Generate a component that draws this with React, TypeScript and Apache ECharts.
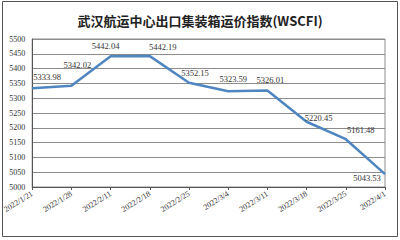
import React, { useEffect, useRef } from "react";
import * as echarts from "echarts";

const title = "武汉航运中心出口集装箱运价指数(WSCFI)";
const categories = [
  "2022/1/21", "2022/1/28", "2022/2/11", "2022/2/18", "2022/2/25",
  "2022/3/4", "2022/3/11", "2022/3/18", "2022/3/25", "2022/4/1",
];
const values = [5333.98, 5342.02, 5442.04, 5442.19, 5352.15, 5323.59, 5326.01, 5220.45, 5161.48, 5043.53];
const yMin = 5000;
const yMax = 5500;
const yStep = 50;

export default function App() {
  const ref = useRef<HTMLDivElement>(null);
  useEffect(() => {
    document.body.style.margin = "0";
    const chart = echarts.init(ref.current!, null, { renderer: "svg" });
    const serif = "Liberation Serif";
    // label placement (dx, dy) relative to each point, as in the reference
    const labelShift = [
      [15, -11], [6, -21], [-5, -10], [13, -9], [6, -10],
      [5, -12], [3, -11], [12, -4], [15, -9], [-18, 4],
    ];
    chart.setOption({
      animation: false,
      backgroundColor: "#ffffff",
      title: {
        text: title,
        left: "center",
        top: 9,
        textStyle: { fontSize: 13, fontWeight: "bold", color: "#222", fontFamily: "Noto Sans CJK SC" },
      },
      graphic: [
        {
          type: "rect",
          shape: { x: 2.5, y: 1.5, width: 395, height: 235 },
          style: { fill: "none", stroke: "#555", lineWidth: 1 },
          silent: true,
        },
      ],
      grid: {
        left: 32,
        right: 15,
        top: 39,
        bottom: 53,
        show: true,
        borderColor: "#8c8c8c",
        borderWidth: 1,
      },
      xAxis: {
        type: "category",
        data: categories,
        boundaryGap: false,
        axisLine: { lineStyle: { color: "#555", width: 1 } },
        axisTick: { show: true, length: 3, lineStyle: { color: "#555" } },
        axisLabel: { rotate: 32, fontSize: 8, color: "#333", fontFamily: serif, margin: 6, interval: 0, hideOverlap: false },
      },
      yAxis: {
        type: "value",
        min: yMin,
        max: yMax,
        interval: yStep,
        axisLine: { show: true, lineStyle: { color: "#555", width: 1 } },
        axisTick: { show: false },
        splitLine: { lineStyle: { color: "#8c8c8c", width: 1 } },
        axisLabel: { fontSize: 8, color: "#333", fontFamily: serif, margin: 7, formatter: (v: number) => String(v) },
      },
      series: [
        {
          type: "line",
          data: values.map((v, i) => ({
            value: v,
            label: { offset: labelShift[i] },
          })),
          showSymbol: true,
          symbol: "circle",
          symbolSize: 2,
          itemStyle: { color: "rgba(0,0,0,0)", borderWidth: 0 },
          lineStyle: { color: "#4f86c0", width: 2.5 },
          label: {
            show: true,
            position: "inside",
            align: "center",
            verticalAlign: "middle",
            fontSize: 8.5,
            color: "#333",
            fontFamily: serif,
            formatter: (p: any) => Number(p.value).toFixed(2),
          },
        },
      ],
    });
    return () => chart.dispose();
  }, []);
  return <div ref={ref} style={{ width: 400, height: 240 }} />;
}
